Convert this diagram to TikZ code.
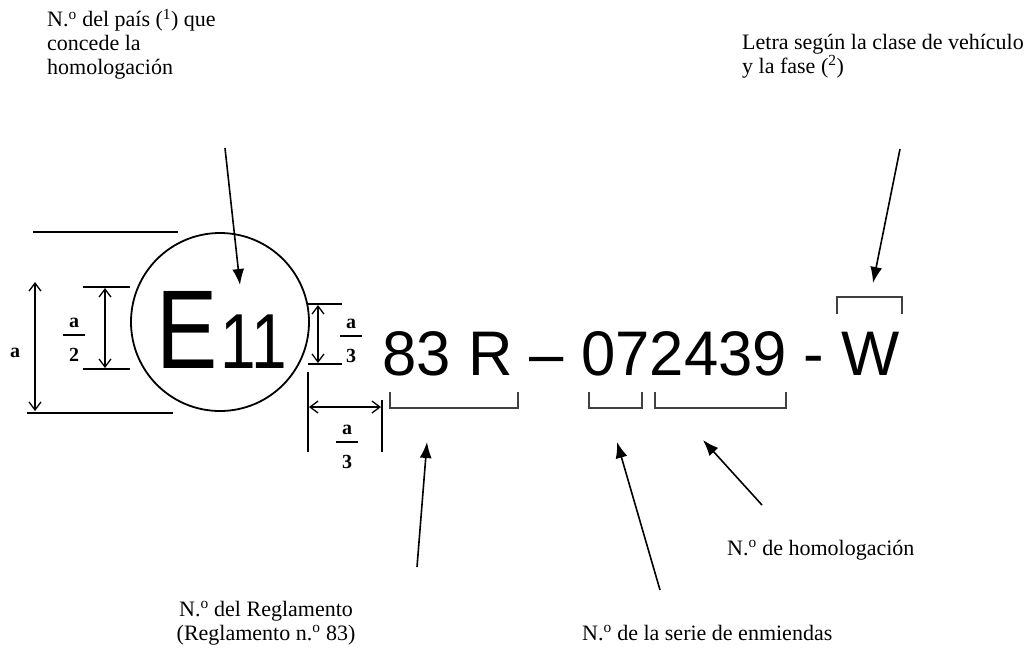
\documentclass[tikz,border=0pt]{standalone}
\usepackage{fontspec}
\setmainfont{Liberation Serif}
\newfontfamily\marksans{Liberation Sans}
\usetikzlibrary{arrows.meta}
\tikzset{
  lbl/.style={font=\fontsize{22}{24}\selectfont, inner sep=0pt, align=left},
  dimlbl/.style={font=\fontsize{20}{24}\selectfont\bfseries, inner sep=0pt},
  dimline/.style={line width=1.3pt},
  dimarrow/.style={line width=1.3pt, {Straight Barb[length=8pt,width=12pt]}-{Straight Barb[length=8pt,width=12pt]}},
  pointer/.style={line width=1.6pt, -{Latex[length=16pt,width=12pt]}},
  bracket/.style={line width=1.3pt, black!75},
  marktxt/.style={anchor=base west, inner sep=0pt},
}
\begin{document}
\begin{tikzpicture}[x=1pt,y=-1pt]
  \useasboundingbox (0,0) rectangle (1024,649);
  % labels
  \node[lbl, anchor=north west] (country) at (47,9)
    {N.\textsuperscript{o} del país (\textsuperscript{1}) que\\concede la\\homologación};
  \node[lbl, anchor=north west] (letter) at (742,34)
    {Letra según la clase de vehículo\\y la fase (\textsuperscript{2})};
  \node[lbl, anchor=north, align=center] (regul) at (266,601)
    {N.\textsuperscript{o} del Reglamento\\(Reglamento n.\textsuperscript{o} 83)};
  \node[lbl, anchor=west] (apprno) at (727,550) {N.\textsuperscript{o} de homologación};
  \node[lbl, anchor=west] (series) at (582,633) {N.\textsuperscript{o} de la serie de enmiendas};
  % approval mark
  \node[circle, draw, line width=1.8pt, minimum size=178pt, inner sep=0pt] (seal) at (220,322) {};
  \node[marktxt, font=\marksans\fontsize{112}{112}\selectfont] (E) at (156,368) {\scalebox{0.82}[1]{E}};
  \node[marktxt, font=\marksans\fontsize{78}{78}\selectfont] (eleven) at (220,368) {\scalebox{0.82}[1]{11}};
  \node[marktxt, font=\marksans\fontsize{63}{63}\selectfont] (code) at (382.5,375)
    {\scalebox{0.978}[1]{83 R – 072439 - W}};
  % dimensions
  \draw[dimline] (33,232) -- (178,232);
  \draw[dimline] (27,413) -- (173,413);
  \draw[dimarrow] (35,282) -- (35,411);
  \node[dimlbl] (a) at (15,353) {a};
  \draw[dimline] (83,287) -- (130,287) (83,369) -- (130,369);
  \draw[dimarrow] (105,288) -- (105,368);
  \draw[dimline] (308,304) -- (342,304) (308,364) -- (342,364);
  \draw[dimarrow] (318,305) -- (318,363);
  \draw[dimline] (308,372) -- (308,452) (382,400) -- (382,452);
  \draw[dimarrow] (309,407) -- (381,407);
  \foreach \x/\y/\d in {74/335/2, 351/336/3, 347/442/3} {
    \node[dimlbl] (num\x) at (\x,\y-12) {a};
    \draw[dimline] (\x-11,\y) -- (\x+11,\y);
    \node[dimlbl] (den\x) at (\x,\y+20) {\d};
  }
  % brackets
  \draw[bracket] (390,392) |- (518,408) -- (518,392);
  \draw[bracket] (589,392) |- (642,408) -- (642,392);
  \draw[bracket] (655,392) |- (786,408) -- (786,392);
  \draw[bracket] (837,314) |- (902,297) -- (902,314);
  % pointers
  \coordinate (country-tail) at (225,148);
  \coordinate (country-tip) at (240,285);
  \coordinate (letter-tail) at (900,149);
  \coordinate (letter-tip) at (873,283);
  \coordinate (regul-tail) at (417,567);
  \coordinate (regul-tip) at (427,442);
  \coordinate (series-tail) at (660,590);
  \coordinate (series-tip) at (617,442);
  \coordinate (apprno-tail) at (762,505);
  \coordinate (apprno-tip) at (703,440);
  \draw[pointer] (country-tail) -- (country-tip);
  \draw[pointer] (letter-tail) -- (letter-tip);
  \draw[pointer] (regul-tail) -- (regul-tip);
  \draw[pointer] (series-tail) -- (series-tip);
  \draw[pointer] (apprno-tail) -- (apprno-tip);
\end{tikzpicture}
\end{document}
